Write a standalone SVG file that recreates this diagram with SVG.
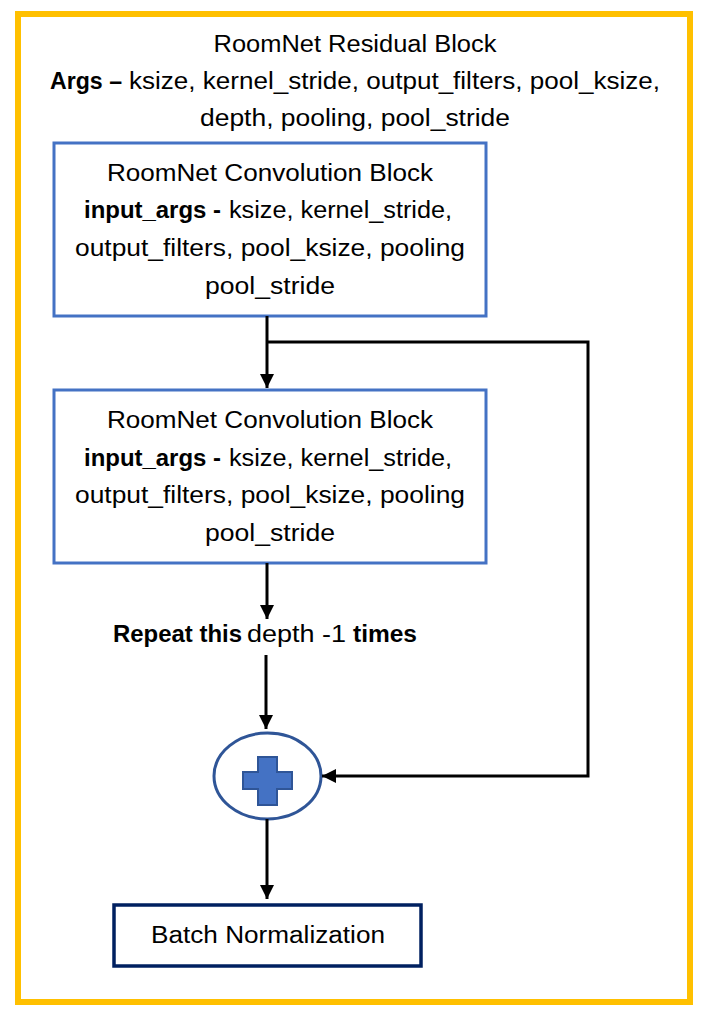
<svg xmlns="http://www.w3.org/2000/svg" width="703" height="1021" viewBox="0 0 703 1021">
<style>
text{font-family:"Liberation Sans",Arial,sans-serif;font-size:23px;fill:#000}
.b{font-weight:bold}
.c{text-anchor:middle}
.conv{fill:#fff;stroke:#4472C4;stroke-width:3}
.wire{fill:none;stroke:#000;stroke-width:3}
</style>
<defs>
<marker id="ah" viewBox="0 0 10 10" refX="10" refY="5" markerWidth="14" markerHeight="14" markerUnits="userSpaceOnUse" orient="auto">
<path d="M0,0 L10,5 L0,10 Z" fill="#000"/>
</marker>
</defs>
<rect width="703" height="1021" fill="#fff"/>
<g id="outer">
<rect x="18" y="14" width="672" height="988" fill="none" stroke="#FFC000" stroke-width="6"/>
<text class="c" x="355" y="52" textLength="283" lengthAdjust="spacingAndGlyphs">RoomNet Residual Block</text>
<text class="b" x="50" y="89" textLength="72" lengthAdjust="spacingAndGlyphs">Args –</text>
<text x="129" y="89" textLength="531" lengthAdjust="spacingAndGlyphs">ksize, kernel_stride, output_filters, pool_ksize,</text>
<text class="c" x="355" y="126" textLength="310" lengthAdjust="spacingAndGlyphs">depth, pooling, pool_stride</text>
</g>
<g id="conv1">
<rect class="conv" x="54" y="143" width="432" height="173"/>
<text class="c" x="270" y="181" textLength="326" lengthAdjust="spacingAndGlyphs">RoomNet Convolution Block</text>
<text class="b" x="84" y="218" textLength="137" lengthAdjust="spacingAndGlyphs">input_args -</text>
<text x="229" y="218" textLength="223" lengthAdjust="spacingAndGlyphs">ksize, kernel_stride,</text>
<text class="c" x="270" y="256" textLength="390" lengthAdjust="spacingAndGlyphs">output_filters, pool_ksize, pooling</text>
<text class="c" x="270" y="294" textLength="130" lengthAdjust="spacingAndGlyphs">pool_stride</text>
</g>
<g id="conv2">
<rect class="conv" x="54" y="390" width="432" height="173"/>
<text class="c" x="270" y="428" textLength="326" lengthAdjust="spacingAndGlyphs">RoomNet Convolution Block</text>
<text class="b" x="84" y="466" textLength="137" lengthAdjust="spacingAndGlyphs">input_args -</text>
<text x="229" y="466" textLength="223" lengthAdjust="spacingAndGlyphs">ksize, kernel_stride,</text>
<text class="c" x="270" y="503" textLength="390" lengthAdjust="spacingAndGlyphs">output_filters, pool_ksize, pooling</text>
<text class="c" x="270" y="541" textLength="130" lengthAdjust="spacingAndGlyphs">pool_stride</text>
</g>
<g id="repeat-label">
<text class="b" x="113" y="642" textLength="129" lengthAdjust="spacingAndGlyphs">Repeat this</text>
<text x="247" y="642" textLength="99" lengthAdjust="spacingAndGlyphs">depth -1</text>
<text class="b" x="353" y="642" textLength="64" lengthAdjust="spacingAndGlyphs">times</text>
</g>
<g id="add">
<ellipse cx="267.5" cy="776" rx="53.5" ry="43" fill="#fff" stroke="#2F5597" stroke-width="3"/>
<path d="M258,757 H277 V772 H292 V789 H277 V805 H258 V789 H243 V772 H258 Z" fill="#4472C4" stroke="#2F5597" stroke-width="2"/>
</g>
<g id="batchnorm">
<rect x="114" y="905" width="307" height="61" fill="#fff" stroke="#002060" stroke-width="3.5"/>
<text class="c" x="268" y="943" textLength="234" lengthAdjust="spacingAndGlyphs">Batch Normalization</text>
</g>
<g id="connectors">
<line class="wire" x1="267" y1="316" x2="267" y2="388" marker-end="url(#ah)"/>
<polyline class="wire" points="267,342 588,342 588,776 322,776" marker-end="url(#ah)"/>
<line class="wire" x1="267" y1="563" x2="267" y2="619" marker-end="url(#ah)"/>
<line class="wire" x1="266" y1="655" x2="266" y2="729" marker-end="url(#ah)"/>
<line class="wire" x1="267" y1="819" x2="267" y2="899" marker-end="url(#ah)"/>
</g>
</svg>
